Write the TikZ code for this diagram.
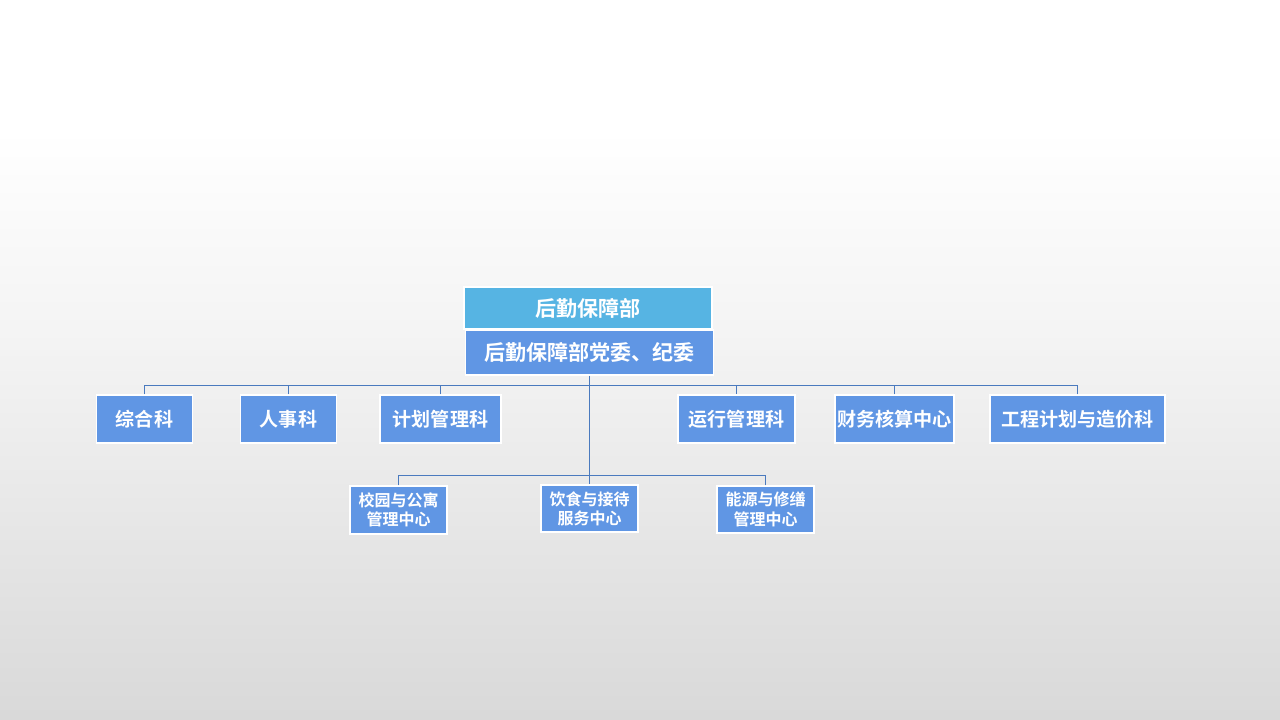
\documentclass[tikz,border=0pt]{standalone}
\usepackage{fontspec}
\newfontfamily\cjk{Noto Sans CJK SC}[BoldFont={Noto Sans CJK SC Bold}]
\definecolor{boxblue}{RGB}{96,150,228}
\definecolor{topblue}{RGB}{86,180,227}
\definecolor{linecol}{RGB}{74,122,190}
\pgfdeclareverticalshading{bgshade}{100bp}{color(0bp)=(black!15!white); color(25bp)=(black!15!white); color(50bp)=(black!5!white); color(66bp)=(white); color(100bp)=(white)}
\tikzset{
  orgbox/.style={draw=white, line width=1pt, fill=boxblue, text=white, font=\cjk\bfseries, inner sep=0pt, align=center},
  lvl1/.style={orgbox, font=\cjk\bfseries\fontsize{14.3}{16}\selectfont},
  lvl2/.style={orgbox, font=\cjk\bfseries\fontsize{12}{14.5}\selectfont},
  conn/.style={draw=linecol, line width=0.7pt},
}
\begin{document}
\begin{tikzpicture}[x=0.75pt,y=-0.75pt]
\shade[shading=bgshade] (0,0) rectangle (1280,720);
\useasboundingbox (0,0) rectangle (1280,720);
% top boxes
\node[orgbox, fill=topblue, minimum width=186pt, minimum height=31.5pt, font=\cjk\bfseries\fontsize{15.8}{18}\selectfont] (top) at (588,308) {后勤保障部};
\node[orgbox, minimum width=186pt, minimum height=33.75pt, font=\cjk\bfseries\fontsize{15.8}{18}\selectfont] (party) at (589.5,352.5) {后勤保障部党委、纪委};
% level 1
\node[lvl1, minimum width=72pt, minimum height=36pt] (a1) at (144.5,419) {综合科};
\node[lvl1, minimum width=72pt, minimum height=36pt] (a2) at (288.5,419) {人事科};
\node[lvl1, minimum width=90.75pt, minimum height=36pt] (a3) at (440.5,419) {计划管理科};
\node[lvl1, minimum width=87.75pt, minimum height=36pt] (a4) at (736.5,419) {运行管理科};
\node[lvl1, minimum width=89.25pt, minimum height=36pt] (a5) at (894.5,419) {财务核算中心};
\node[lvl1, minimum width=131.25pt, minimum height=36pt] (a6) at (1077.5,419) {工程计划与造价科};
% level 2
\node[lvl2, minimum width=72.75pt, minimum height=36pt] (b1) at (398.5,510) {校园与公寓\\管理中心};
\node[lvl2, minimum width=72.75pt, minimum height=35.25pt] (b2) at (589.5,508.5) {饮食与接待\\服务中心};
\node[lvl2, minimum width=72.75pt, minimum height=35.25pt] (b3) at (765.5,509.5) {能源与修缮\\管理中心};
% connectors
\coordinate (h1) at (589.5,385.5);
\coordinate (h2) at (589.5,475.5);
\draw[conn] (party.south) -- (h1);
\draw[conn] (a1.north) |- (h1);
\draw[conn] (a2.north) |- (h1);
\draw[conn] (a3.north) |- (h1);
\draw[conn, line width=1.3pt] (h1) -| (a4.north);
\draw[conn] (a5.north) |- (h1);
\draw[conn] (a6.north) |- (h1);
\draw[conn] (h1) -- (h2) -- (b2.north);
\draw[conn] (b1.north) |- (h2);
\draw[conn] (b3.north) |- (h2);
\end{tikzpicture}
\end{document}
